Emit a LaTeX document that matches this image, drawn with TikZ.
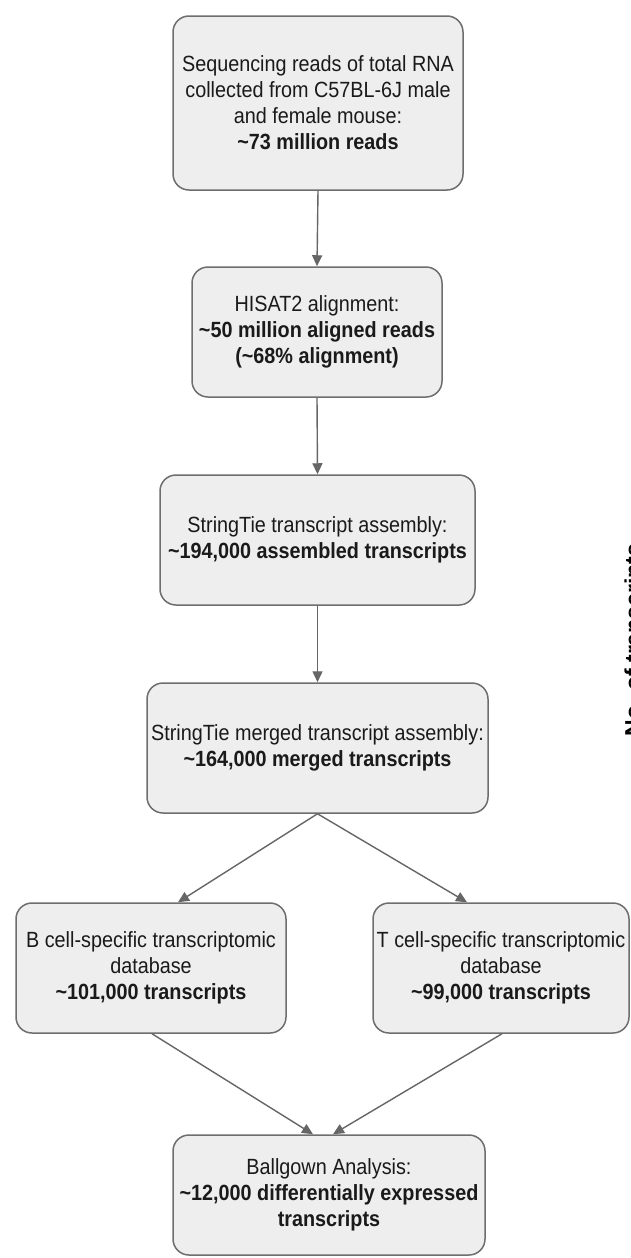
\documentclass[tikz,border=0pt]{standalone}
\usepackage{fontspec}
\setmainfont{Liberation Sans}[FakeStretch=0.9]
\newfontfamily\rotfont{Liberation Sans}
\usetikzlibrary{arrows.meta}
\definecolor{boxfill}{HTML}{EEEEEE}
\definecolor{boxline}{HTML}{6E6E6E}
\definecolor{arrowcol}{HTML}{666666}
\definecolor{txt}{HTML}{1A1A1A}
\tikzset{
  flowbox/.style={draw=boxline, fill=boxfill, line width=1.5pt, rounded corners=16pt,
    align=center, text=txt, inner sep=0pt, font=\fontsize{22}{26}\selectfont},
  flowarrow/.style={draw=arrowcol, line width=1.4pt, -{Triangle[length=11pt,width=10pt]}},
}
\begin{document}
\begin{tikzpicture}[x=1pt,y=-1pt]
\fill[white] (0,0) rectangle (631,1258);
\useasboundingbox (0,0) rectangle (631,1258);

\node[flowbox, minimum width=290pt, minimum height=174pt] (seq) at (318,103)
  {Sequencing reads of total RNA\\collected from C57BL-6J male\\and female mouse:\\\textbf{\textasciitilde73 million reads}};
\node[flowbox, minimum width=250pt, minimum height=130pt] (hisat) at (317,332)
  {HISAT2 alignment:\\\textbf{\textasciitilde50 million aligned reads}\\\textbf{(\textasciitilde68\% alignment)}};
\node[flowbox, minimum width=315pt, minimum height=130pt] (st) at (317.5,540)
  {StringTie transcript assembly:\\\textbf{\textasciitilde194,000 assembled transcripts}};
\node[flowbox, minimum width=341pt, minimum height=130pt] (merge) at (317.5,748)
  {StringTie merged transcript assembly:\\\textbf{\textasciitilde164,000 merged transcripts}};
\node[flowbox, minimum width=270pt, minimum height=130pt] (bcell) at (151,968)
  {B cell-specific transcriptomic\\database\\\textbf{\textasciitilde101,000 transcripts}};
\node[flowbox, minimum width=256pt, minimum height=130pt] (tcell) at (501,968)
  {T cell-specific transcriptomic\\database\\\textbf{\textasciitilde99,000 transcripts}};
\node[flowbox, minimum width=312pt, minimum height=120pt] (ball) at (329,1195)
  {Ballgown Analysis:\\\textbf{\textasciitilde12,000 differentially expressed}\\\textbf{transcripts}};

\draw[flowarrow] (seq.south) -- (hisat.north);
\draw[flowarrow] (hisat.south) -- (st.north);
\draw[flowarrow] (st.south) -- (merge.north);
\draw[flowarrow] (merge.south) -- ([xshift=27pt]bcell.north);
\draw[flowarrow] (merge.south) -- ([xshift=-34pt]tcell.north);
\draw[flowarrow] ([xshift=1pt]bcell.south) -- ([xshift=-16pt]ball.north);
\draw[flowarrow] ([xshift=1pt]tcell.south) -- ([xshift=4pt]ball.north);

\begin{scope}
\clip (0,0) rectangle (631,1258);
\node[rotate=90, anchor=base, inner sep=0pt, text=black,
  font=\rotfont\bfseries\fontsize{23}{27}\selectfont] (ylabel) at (641,640) {No. of transcripts};
\end{scope}
\end{tikzpicture}
\end{document}
